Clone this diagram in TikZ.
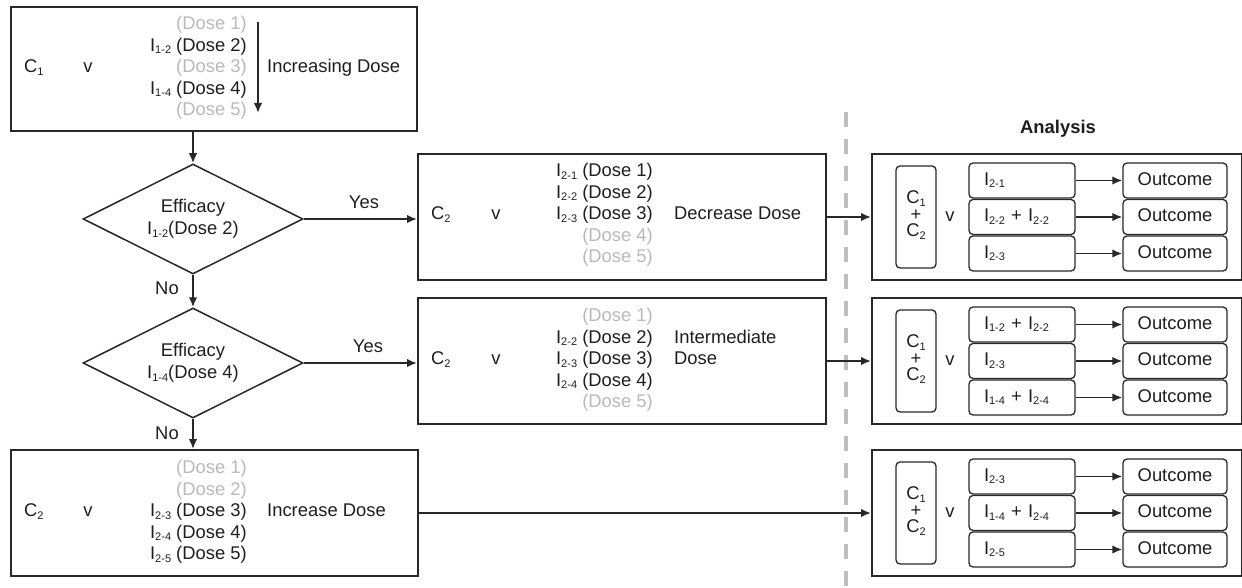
\documentclass[tikz,border=0pt]{standalone}
\usepackage{fontspec}
\setmainfont{Liberation Sans}
\usetikzlibrary{shapes.geometric,arrows.meta}
\definecolor{lg}{RGB}{185,185,185}
\definecolor{ink}{RGB}{30,30,30}
\definecolor{edge}{RGB}{40,40,40}
\definecolor{dashc}{RGB}{190,190,190}
\newcommand\ssub[1]{\raisebox{-2.5pt}{\fontsize{11}{12}\selectfont #1}}
\begin{document}
\begin{tikzpicture}[x=1pt,y=-1pt,font=\fontsize{18.4}{21.6}\selectfont,text=ink,
  bigbox/.style={draw=edge,line width=1.9pt,rectangle,inner sep=0pt,anchor=west},
  txt/.style={inner sep=0pt,text height=13.2pt,text depth=3.9pt},
  gtxt/.style={txt,text=lg},
  arr/.style={draw=edge,line width=1.8pt,-{Latex[length=10pt,width=8.5pt]}},
  dia/.style={diamond,draw=edge,line width=1.5pt,aspect=2,minimum width=220pt,minimum height=110pt,inner sep=0pt,align=center},
  cbox/.style={draw=edge,line width=1.3pt,rounded corners=4pt,minimum width=40pt,minimum height=102pt,inner sep=0pt},
  ibox/.style={draw=edge,line width=1.3pt,rounded corners=4pt,minimum height=35pt,text width=76pt,inner xsep=15pt,inner ysep=0pt,align=left,text height=13.2pt,text depth=3.9pt},
  obox/.style={draw=edge,line width=1.3pt,rounded corners=4pt,minimum height=35pt,minimum width=104pt,inner sep=0pt,text height=13.2pt,text depth=3.9pt},
  lab/.style={txt}
]
\useasboundingbox (0,0) rectangle (1242,588);

% ---------- top box ----------
\node[bigbox,minimum width=406pt,minimum height=124pt] (top) at (10,69) {};
\node[txt,anchor=west] (c1) at (24,68) {C\ssub{1}};
\node[txt] (v1) at (88,68) {v};
\node[gtxt,anchor=east] (t1a) at (247,25) {(Dose 1)};
\node[txt,anchor=east] (t1b) at (247,46.5) {I\ssub{1-2} (Dose 2)};
\node[gtxt,anchor=east] (t1c) at (247,68) {(Dose 3)};
\node[txt,anchor=east] (t1d) at (247,89.5) {I\ssub{1-4} (Dose 4)};
\node[gtxt,anchor=east] (t1e) at (247,111) {(Dose 5)};
\coordinate (ia) at (258,22);
\coordinate (ib) at (258,113);
\draw[arr] (ia) -- (ib);
\node[txt,anchor=west] (inc) at (267,68) {Increasing Dose};

% ---------- diamonds ----------
\node[dia] (d1) at (193,219) {Efficacy\\I\ssub{1-2}(Dose 2)};
\node[dia] (d2) at (193,363) {Efficacy\\I\ssub{1-4}(Dose 4)};

% ---------- middle box 1 ----------
\node[bigbox,minimum width=408pt,minimum height=126pt] (m1) at (417,217) {};
\node[txt,anchor=west] (m1c) at (431,215) {C\ssub{2}};
\node[txt] (m1v) at (496,215) {v};
\node[txt,anchor=east] (m1a) at (653,172) {I\ssub{2-1} (Dose 1)};
\node[txt,anchor=east] (m1b) at (653,193.5) {I\ssub{2-2} (Dose 2)};
\node[txt,anchor=east] (m1d) at (653,215) {I\ssub{2-3} (Dose 3)};
\node[gtxt,anchor=east] (m1e) at (653,236.5) {(Dose 4)};
\node[gtxt,anchor=east] (m1f) at (653,258) {(Dose 5)};
\node[txt,anchor=west] (dec) at (674,215) {Decrease Dose};

% ---------- middle box 2 ----------
\node[bigbox,minimum width=408pt,minimum height=126pt] (m2) at (417,361) {};
\node[txt,anchor=west] (m2c) at (431,360) {C\ssub{2}};
\node[txt] (m2v) at (496,360) {v};
\node[gtxt,anchor=east] (m2a) at (653,317) {(Dose 1)};
\node[txt,anchor=east] (m2b) at (653,338.5) {I\ssub{2-2} (Dose 2)};
\node[txt,anchor=east] (m2d) at (653,360) {I\ssub{2-3} (Dose 3)};
\node[txt,anchor=east] (m2e) at (653,381.5) {I\ssub{2-4} (Dose 4)};
\node[gtxt,anchor=east] (m2f) at (653,403) {(Dose 5)};
\node[txt,anchor=west] (int1) at (674,338.5) {Intermediate};
\node[txt,anchor=west] (int2) at (674,360) {Dose};

% ---------- bottom box ----------
\node[bigbox,minimum width=407pt,minimum height=126pt] (bot) at (10,513) {};
\node[txt,anchor=west] (bc) at (24,512) {C\ssub{2}};
\node[txt] (bv) at (88,512) {v};
\node[gtxt,anchor=east] (ba) at (247,469) {(Dose 1)};
\node[gtxt,anchor=east] (bb) at (247,490.5) {(Dose 2)};
\node[txt,anchor=east] (bd) at (247,512) {I\ssub{2-3} (Dose 3)};
\node[txt,anchor=east] (be) at (247,533.5) {I\ssub{2-4} (Dose 4)};
\node[txt,anchor=east] (bf) at (247,555) {I\ssub{2-5} (Dose 5)};
\node[txt,anchor=west] (incd) at (267,512) {Increase Dose};

% ---------- dashed separator ----------
\coordinate (dtop) at (846,112);
\coordinate (dbot) at (846,590);
\draw[dashc,line width=3.5pt,dash pattern=on 15pt off 12pt] (dtop) -- (dbot);

\node[txt,font=\fontsize{18.4}{21.6}\selectfont\bfseries] (ana) at (1058,129) {Analysis};

% ---------- analysis boxes ----------
\node[bigbox,minimum width=370pt,minimum height=126pt] (a1) at (871,217) {};
\node[bigbox,minimum width=370pt,minimum height=126pt] (a2) at (871,361) {};
\node[bigbox,minimum width=370pt,minimum height=126pt] (a3) at (871,513) {};

% analysis 1
\node[cbox] (a1c) at (916,217) {};
\node[txt] (a1c1) at (916,199) {C\ssub{1}};
\node[txt] (a1c2) at (916,216) {+};
\node[txt] (a1c3) at (916,232) {C\ssub{2}};
\node[txt] (a1v) at (950,217) {v};
\node[ibox] (a1i1) at (1022,180.5) {I\ssub{2-1}};
\node[ibox] (a1i2) at (1022,217) {I\ssub{2-2} + I\ssub{2-2}};
\node[ibox] (a1i3) at (1022,253.5) {I\ssub{2-3}};
\node[obox] (a1o1) at (1175,180.5) {Outcome};
\node[obox] (a1o2) at (1175,217) {Outcome};
\node[obox] (a1o3) at (1175,253.5) {Outcome};
\draw[arr] (a1i1.east) -- (a1o1.west);
\draw[arr] (a1i2.east) -- (a1o2.west);
\draw[arr] (a1i3.east) -- (a1o3.west);

% analysis 2
\node[cbox] (a2c) at (916,361) {};
\node[txt] (a2c1) at (916,343) {C\ssub{1}};
\node[txt] (a2c2) at (916,360) {+};
\node[txt] (a2c3) at (916,376) {C\ssub{2}};
\node[txt] (a2v) at (950,361) {v};
\node[ibox] (a2i1) at (1022,324.5) {I\ssub{1-2} + I\ssub{2-2}};
\node[ibox] (a2i2) at (1022,361) {I\ssub{2-3}};
\node[ibox] (a2i3) at (1022,397.5) {I\ssub{1-4} + I\ssub{2-4}};
\node[obox] (a2o1) at (1175,324.5) {Outcome};
\node[obox] (a2o2) at (1175,361) {Outcome};
\node[obox] (a2o3) at (1175,397.5) {Outcome};
\draw[arr] (a2i1.east) -- (a2o1.west);
\draw[arr] (a2i2.east) -- (a2o2.west);
\draw[arr] (a2i3.east) -- (a2o3.west);

% analysis 3
\node[cbox] (a3c) at (916,513) {};
\node[txt] (a3c1) at (916,495) {C\ssub{1}};
\node[txt] (a3c2) at (916,512) {+};
\node[txt] (a3c3) at (916,528) {C\ssub{2}};
\node[txt] (a3v) at (950,513) {v};
\node[ibox] (a3i1) at (1022,476.5) {I\ssub{2-3}};
\node[ibox] (a3i2) at (1022,513) {I\ssub{1-4} + I\ssub{2-4}};
\node[ibox] (a3i3) at (1022,549.5) {I\ssub{2-5}};
\node[obox] (a3o1) at (1175,476.5) {Outcome};
\node[obox] (a3o2) at (1175,513) {Outcome};
\node[obox] (a3o3) at (1175,549.5) {Outcome};
\draw[arr] (a3i1.east) -- (a3o1.west);
\draw[arr] (a3i2.east) -- (a3o2.west);
\draw[arr] (a3i3.east) -- (a3o3.west);

% ---------- connectors ----------
\draw[arr] (top.south -| d1.north) -- (d1.north);
\draw[arr] (d1.east) -- (d1.east -| m1.west);
\draw[arr] (d1.south) -- (d2.north);
\draw[arr] (d2.east) -- (d2.east -| m2.west);
\draw[arr] (d2.south) -- (d2.south |- bot.north);
\draw[arr] (m1.east) -- (a1.west);
\draw[arr] (m2.east) -- (a2.west);
\draw[arr] (bot.east) -- (a3.west);

\node[lab] (yes1) at (364,204) {Yes};
\node[lab] (yes2) at (368,348) {Yes};
\node[lab] (no1) at (167,290) {No};
\node[lab] (no2) at (167,435) {No};
\end{tikzpicture}
\end{document}
